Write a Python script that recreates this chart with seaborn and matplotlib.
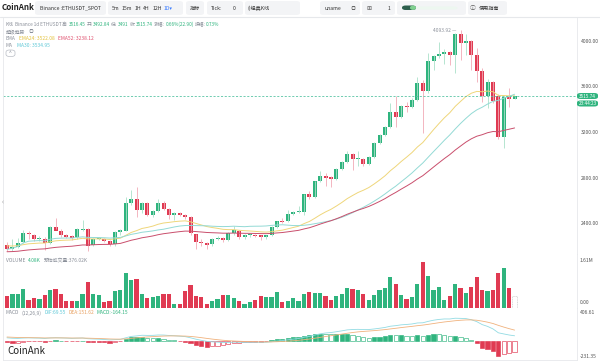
import numpy as np
import pandas as pd
import matplotlib
matplotlib.use('Agg')
import matplotlib.pyplot as plt
from matplotlib.patches import FancyBboxPatch
import seaborn as sns

# daily ETHUSDT candles
opens = [2209, 2172, 2190, 2236, 2318, 2300, 2262, 2265, 2230, 2370,
         2335, 2295, 2285, 2277, 2341, 2348, 2210, 2265, 2265, 2242,
         2218, 2324, 2335, 2580, 2610, 2517, 2575, 2470, 2508, 2580,
         2522, 2470, 2488, 2470, 2452, 2306, 2239, 2225, 2216, 2265,
         2270, 2254, 2312, 2335, 2277, 2295, 2300, 2295, 2280, 2300,
         2370, 2420, 2417, 2482, 2500, 2500, 2657, 2633, 2768, 2815,
         2803, 2788, 2880, 2938, 3008, 2961, 2967, 2920, 2984, 3107,
         3172, 3242, 3377, 3336, 3430, 3420, 3484, 3630, 3557, 3820,
         3870, 3888, 3905, 3880, 4060, 3977, 4000, 3877, 3737, 3515,
         3638, 3516, 3154, 3510, 3492.84]
highs = [2239, 2260, 2268, 2341, 2330, 2310, 2290, 2280, 2380, 2444,
         2350, 2310, 2300, 2355, 2429, 2360, 2275, 2280, 2275, 2250,
         2335, 2350, 2628, 2692, 2716, 2590, 2590, 2520, 2610, 2595,
         2530, 2500, 2495, 2480, 2460, 2310, 2260, 2240, 2270, 2285,
         2280, 2320, 2375, 2345, 2310, 2310, 2310, 2300, 2300, 2375,
         2420, 2450, 2520, 2505, 2550, 2660, 2680, 2775, 2860, 2845,
         2815, 2885, 2945, 3037, 3015, 3030, 2975, 2990, 3110, 3180,
         3250, 3452, 3516, 3440, 3460, 3495, 3686, 3660, 3893, 3880,
         3988, 3925, 3915, 4070, 4093.92, 4060, 4010, 3933, 3760, 3665,
         3645, 3530, 3520, 3590, 3516.45]
lows = [2160, 2160, 2180, 2228, 2260, 2242, 2245, 2166, 2222, 2350,
        2280, 2270, 2250, 2265, 2330, 2160, 2200, 2250, 2235, 2200,
        2200, 2300, 2330, 2560, 2458, 2490, 2460, 2455, 2495, 2515,
        2440, 2430, 2465, 2440, 2300, 2172, 2200, 2172, 2200, 2250,
        2240, 2245, 2300, 2265, 2260, 2280, 2280, 2255, 2260, 2290,
        2360, 2400, 2410, 2470, 2490, 2475, 2610, 2625, 2760, 2725,
        2716, 2780, 2870, 2930, 2867, 2905, 2900, 2910, 2975, 3095,
        3165, 3235, 3247, 3325, 3380, 3410, 3475, 3194, 3545, 3740,
        3850, 3800, 3787, 3719, 3831, 3880, 3743, 3642, 3466, 3407,
        3457, 3140, 3056, 3418, 3491]
closes = [2172, 2190, 2230, 2318, 2306, 2260, 2266, 2230, 2370, 2335,
          2295, 2280, 2270, 2348, 2352, 2201, 2265, 2267, 2242, 2218,
          2324, 2341, 2580, 2610, 2517, 2575, 2470, 2508, 2580, 2528,
          2470, 2488, 2470, 2452, 2312, 2239, 2230, 2212, 2265, 2272,
          2252, 2312, 2341, 2277, 2295, 2302, 2290, 2280, 2297, 2370,
          2417, 2410, 2482, 2500, 2505, 2657, 2633, 2768, 2815, 2800,
          2785, 2880, 2938, 3008, 2961, 2970, 2920, 2984, 3107, 3174,
          3242, 3377, 3336, 3430, 3420, 3484, 3630, 3557, 3820, 3870,
          3888, 3905, 3880, 4060, 3977, 4000, 3877, 3737, 3515, 3638,
          3474, 3154, 3510, 3493, 3515.74]
# volume in thousands (last one is the estimated volume)
volumes = [378, 443, 464, 626, 270, 324, 292, 432, 572, 605,
           464, 216, 216, 216, 464, 842, 464, 432, 194, 216,
           562, 572, 1112, 896, 929, 454, 324, 356, 389, 464,
           454, 140, 140, 562, 734, 378, 356, 140, 216, 302,
           410, 410, 324, 216, 140, 194, 248, 389, 356, 356,
           518, 194, 216, 324, 216, 464, 518, 497, 497, 389,
           248, 378, 464, 659, 626, 594, 443, 248, 432, 572,
           659, 1004, 788, 432, 281, 346, 767, 1490, 1037, 572,
           680, 248, 378, 767, 659, 497, 680, 1004, 572, 551,
           594, 1134, 1296, 637, 376]

price_ticks = [2400, 2800, 3200, 3600, 4000]
last_price = 3515.74
peak_price = 4093.92

# indicator values at the left edge of the window
ema24_start = 2205
ema52_start = 2150
ema12_start = 2240
ema26_start = 2190
dea_start = 55

W, H = 600, 364
GREEN = '#2fb47e'
RED = '#e03a52'
GREEN_W = '#a9e0c9'
RED_W = '#f1a9b5'
GREY = '#8a8f99'


def ema(values, n, start):
    a = 2 / (n + 1)
    prev = start
    out = []
    for v in values:
        prev = prev + a * (v - prev)
        out.append(prev)
    return np.array(out)


o = np.array(opens)
h = np.array(highs)
l = np.array(lows)
c = np.array(closes)
idx = np.arange(len(c))
up = c >= o

# indicators as the exchange computes them from the closes
ema24 = ema(c, 24, ema24_start)
ema52 = ema(c, 52, ema52_start)
ma30 = pd.Series(c).rolling(30, min_periods=1).mean().values
dif = ema(c, 12, ema12_start) - ema(c, 26, ema26_start)
dea = ema(dif, 9, dea_start)
hist = 2 * (dif - dea)

sns.set_theme(style='white')
plt.rcParams['font.family'] = ['Noto Sans CJK SC', 'DejaVu Sans']

fig = plt.figure(figsize=(6, 3.64), dpi=100)
renderer = fig.canvas.get_renderer()


def fax(x0, y0, x1, y1):
    return fig.add_axes([x0 / W, 1 - y1 / H, (x1 - x0) / W, (y1 - y0) / H])


def box(x0, x1, y0=1, y1=15, fc='#f3f4f6', ec='none', lw=0.6):
    fig.patches.append(FancyBboxPatch((x0 / W, 1 - y1 / H), (x1 - x0) / W, (y1 - y0) / H,
                                      boxstyle='round,pad=0,rounding_size=0.006',
                                      transform=fig.transFigure, fc=fc, ec=ec, lw=lw))


def txt(x, y, s, size=4.2, color='#333333', **kw):
    return fig.text(x / W, 1 - y / H, s, fontsize=size, color=color, va='center', **kw)


def chain(x, y, parts, size=3.5, gap=1.5):
    for s, col in parts:
        t = txt(x, y, s, size=size, color=col, ha='left')
        x += t.get_window_extent(renderer).width + gap
    return x


xlim = (-0.74, 105.56)
ax = fax(3, 18, 577, 254)
axv = fax(3, 254, 577, 308)
axm = fax(3, 308, 577, 360)
for a in (ax, axv, axm):
    a.set_xlim(*xlim)
    a.set_xticks([])
    a.set_facecolor('white')
    for side in ('top', 'left', 'right', 'bottom'):
        a.spines[side].set_color('#e6e8eb')
        a.spines[side].set_linewidth(0.6)
    a.spines['top'].set_visible(False)

# main candles
ax.vlines(idx, l, h, colors=np.where(up, GREEN_W, RED_W), linewidth=0.6)
ax.bar(idx, np.maximum(np.abs(c - o), 8), bottom=np.minimum(o, c), width=0.76,
       color=np.where(up, GREEN, RED), linewidth=0)
sns.lineplot(x=idx, y=ema24, ax=ax, color='#efd67a', linewidth=0.7)
sns.lineplot(x=idx, y=ma30, ax=ax, color='#93dad5', linewidth=0.7)
sns.lineplot(x=idx, y=ema52, ax=ax, color='#c94e6c', linewidth=0.7)
ax.axhline(last_price, color='#58c4a4', ls=(0, (2.5, 2)), lw=0.6)
ax.text(84 - 0.8, peak_price, '4093.92 \u2014', ha='right', va='center', fontsize=3.5, color=GREY)
ax.set_ylim(2131, 4200)
ax.set_ylabel('')
ax.yaxis.tick_right()
ax.set_yticks(price_ticks)
ax.set_yticklabels([f'{t:.2f}' for t in price_ticks])
ax.tick_params(axis='y', length=0, pad=3, labelsize=3.6, labelcolor='#555555')

# volume
vol_colors = np.where(up, GREEN, RED)
axv.bar(idx[:-1], volumes[:-1], width=0.78, color=vol_colors[:-1], linewidth=0)
axv.bar(idx[-1:], volumes[-1:], width=0.78, facecolor='white', edgecolor='#c9c9c9',
        linewidth=0.5, linestyle=(0, (1.5, 1)))
axv.set_ylim(0, 1740)
axv.set_yticks([])

# macd
for i, v in enumerate(hist):
    prev = hist[i - 1] if i > 0 else v
    col = GREEN if v >= 0 else RED
    solid = (v >= prev) if v >= 0 else (v <= prev)
    axm.bar(i, v, width=0.78, facecolor=col if solid else 'white', edgecolor=col, linewidth=0.45)
sns.lineplot(x=idx, y=dif, ax=axm, color='#92dbe3', linewidth=0.6)
sns.lineplot(x=idx, y=dea, ax=axm, color='#f0b27d', linewidth=0.6)
axm.set_ylim(-274, 464)
axm.set_yticks([])

# right side labels
txt(580, 260, '1.61M', size=3.6, color='#555555')
txt(580, 303, '0.00', size=3.6, color='#555555')
txt(580, 312, '406.61', size=3.6, color='#555555')
txt(580, 357, '-231.35', size=3.6, color='#555555')
box(577, 598, 93, 99, fc=GREEN)
txt(587.5, 96, '3515.74', size=3.4, color='white', ha='center')
box(577, 598, 100.5, 106.5, fc=GREEN)
txt(587.5, 103.5, '23:44:23', size=3.4, color='white', ha='center')

# toolbar
txt(2, 7.5, 'CoinAnk', size=5.8, color='#222222', ha='left', fontweight='semibold')
box(35, 106)
txt(70.5, 8, 'Binance :ETHUSDT_SPOT', size=3.7, ha='center')
box(108, 183)
chain(112, 8, [('5m', '#333333'), ('15m', '#333333'), ('1H', '#333333'), ('4H', '#333333'),
               ('12H', '#333333'), ('1D\u25be', '#3d7eff')], size=3.7, gap=2.2)
box(186, 204)
txt(195, 8, '指标', size=3.7, ha='center')
box(207, 243)
txt(211, 8, 'Tick:', size=3.7, ha='left')
txt(233, 8, '0', size=3.7, ha='left')
box(245, 300)
txt(247, 8, '()经典K线', size=3.7, ha='left')
box(320, 360)
txt(325, 8, 'uname', size=3.7, ha='left')
txt(353, 8, '\u25ce', size=3.7, color='#666666', ha='center')
box(362, 395)
txt(369, 8, '\u229e', size=4.2, color='#555555', ha='center')
txt(389, 8, '1', size=3.7, ha='center')
box(397, 466)
box(402, 416, 5.5, 10, fc='#2c5e4c')
box(410, 416, 5.5, 10, fc='#7fd08f')
box(416, 458, 6.5, 9.5, fc='#edf7f0')
box(468, 507)
txt(473, 8, '\u24d8', size=4.2, color='#555555', ha='center')
txt(479, 8, '使用指南', size=3.7, ha='left')
fig.add_artist(plt.Line2D([0, 1], [1 - 17 / H, 1 - 17 / H], transform=fig.transFigure,
                          color='#e6e8eb', lw=0.8))

# chart info lines
chain(6, 24, [('K线', GREY), ('Binance 1d ETHUSDT', GREY), ('高:', GREY), ('3516.45', GREEN),
              ('开:', GREY), ('3492.84', GREEN), ('低:', GREY), ('3491', GREEN),
              ('收:', GREY), ('3515.74', GREEN), ('涨幅:', GREY), ('0.66%(22.90)', GREEN),
              ('振幅:', GREY), ('0.73%', GREEN)], size=3.4, gap=0.8)
chain(6, 31.5, [('超级趋势', GREY), ('\u25ce', GREY)], gap=3)
chain(6, 38.5, [('EMA', GREY), ('EMA24: 3522.08', '#e3c13a'), ('EMA52: 3238.12', '#e0506e')], gap=3)
chain(6, 45.5, [('MA', GREY), ('MA30: 3534.95', '#5cc7d6')], gap=4)
box(6, 15, 50, 56.5, fc='white', ec='#b8bcc4', lw=0.5)
txt(10.5, 53.5, '^', size=3.6, color=GREY, ha='center')
txt(1.5, 202, '\u2039', size=5, color='#999999', ha='left')

chain(6, 260, [('VOLUME', GREY), ('4.08K', GREEN), ('预估成交量:376.02K', GREY)], gap=3)
chain(6, 313, [('MACD', GREY), ('(12,26,9)', GREY), ('DIF:69.55', '#5fc9d8'),
               ('DEA:151.62', '#e8a060'), ('MACD:-164.15', GREEN)], gap=2.5)
txt(7, 351, 'CoinAnk', size=7, color='#222222', ha='left')

fig.savefig('out.png', dpi=100)
